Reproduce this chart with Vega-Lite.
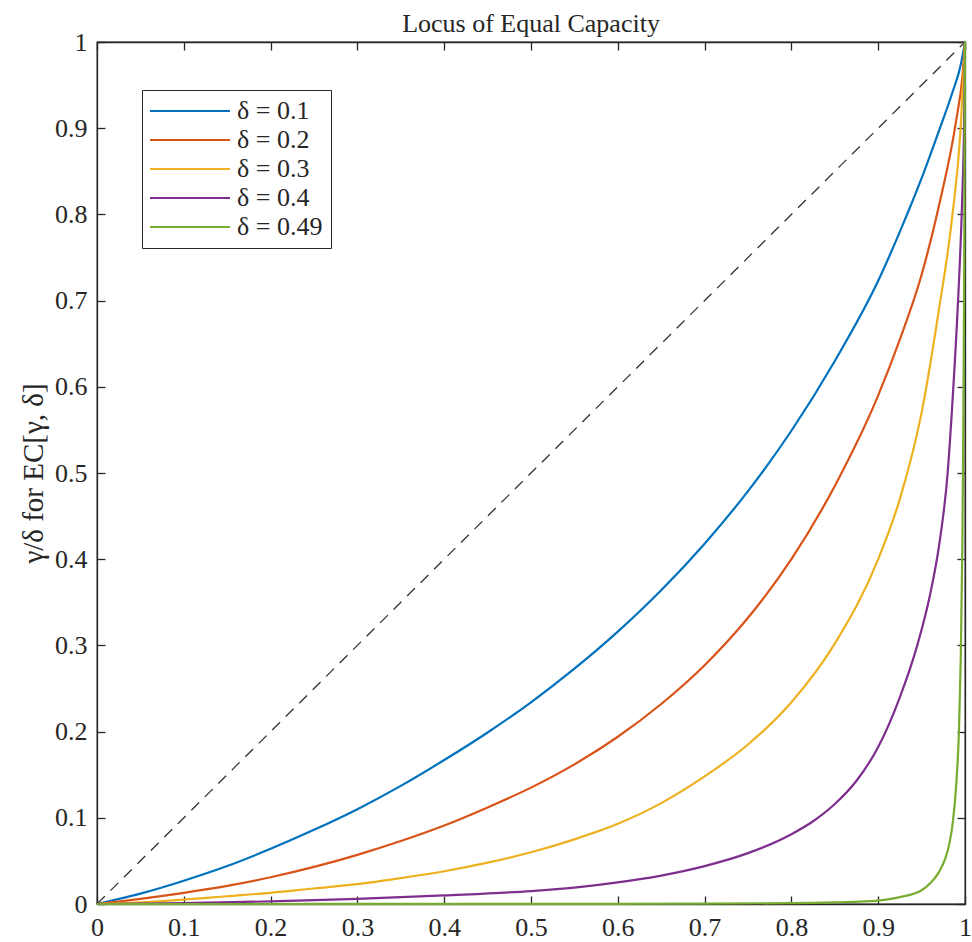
{
  "$schema": "https://vega.github.io/schema/vega-lite/v6.json",
  "autosize": {"type": "none"},
  "width": 868,
  "height": 862,
  "padding": {"left": 97, "top": 42, "right": 7, "bottom": 38},
  "background": "white",
  "title": {"text": "Locus of Equal Capacity", "font": "Liberation Serif", "fontSize": 26, "fontWeight": "normal", "color": "#262626", "offset": -8},
  "config": {
    "view": {"stroke": "#262626", "strokeWidth": 1.3},
    "axis": {
      "labelFont": "Liberation Serif", "labelFontSize": 26, "labelColor": "#262626",
      "titleFont": "Liberation Serif", "titleFontSize": 29, "titleFontWeight": "normal", "titleColor": "#262626",
      "gridColor": "#e3e3e3", "gridWidth": 1, "domainColor": "#262626", "domainWidth": 1.3,
      "tickColor": "#262626", "tickWidth": 1.3, "tickSize": -8, "labelPadding": 18
    }
  },
  "datasets": {
    "diag": [{"x": 0, "y": 0}, {"x": 1, "y": 1}],
    "curves": [
      {"s": "δ = 0.1", "x": 0, "y": 0}, {"s": "δ = 0.1", "x": 0.05, "y": 0.012}, {"s": "δ = 0.1", "x": 0.1, "y": 0.027},
      {"s": "δ = 0.1", "x": 0.15, "y": 0.044}, {"s": "δ = 0.1", "x": 0.2, "y": 0.064}, {"s": "δ = 0.1", "x": 0.25, "y": 0.086},
      {"s": "δ = 0.1", "x": 0.3, "y": 0.11}, {"s": "δ = 0.1", "x": 0.35, "y": 0.137}, {"s": "δ = 0.1", "x": 0.4, "y": 0.167},
      {"s": "δ = 0.1", "x": 0.45, "y": 0.199}, {"s": "δ = 0.1", "x": 0.5, "y": 0.234}, {"s": "δ = 0.1", "x": 0.55, "y": 0.273},
      {"s": "δ = 0.1", "x": 0.6, "y": 0.316}, {"s": "δ = 0.1", "x": 0.65, "y": 0.364}, {"s": "δ = 0.1", "x": 0.7, "y": 0.418},
      {"s": "δ = 0.1", "x": 0.75, "y": 0.479}, {"s": "δ = 0.1", "x": 0.8, "y": 0.549}, {"s": "δ = 0.1", "x": 0.85, "y": 0.63},
      {"s": "δ = 0.1", "x": 0.9, "y": 0.723}, {"s": "δ = 0.1", "x": 0.925, "y": 0.78}, {"s": "δ = 0.1", "x": 0.95, "y": 0.842},
      {"s": "δ = 0.1", "x": 0.97, "y": 0.897}, {"s": "δ = 0.1", "x": 0.985, "y": 0.94}, {"s": "δ = 0.1", "x": 0.995, "y": 0.973},
      {"s": "δ = 0.1", "x": 1, "y": 1},

      {"s": "δ = 0.2", "x": 0, "y": 0}, {"s": "δ = 0.2", "x": 0.05, "y": 0.006}, {"s": "δ = 0.2", "x": 0.1, "y": 0.013},
      {"s": "δ = 0.2", "x": 0.15, "y": 0.021}, {"s": "δ = 0.2", "x": 0.2, "y": 0.031}, {"s": "δ = 0.2", "x": 0.25, "y": 0.043},
      {"s": "δ = 0.2", "x": 0.3, "y": 0.057}, {"s": "δ = 0.2", "x": 0.35, "y": 0.073}, {"s": "δ = 0.2", "x": 0.4, "y": 0.091},
      {"s": "δ = 0.2", "x": 0.45, "y": 0.112}, {"s": "δ = 0.2", "x": 0.5, "y": 0.135}, {"s": "δ = 0.2", "x": 0.55, "y": 0.162},
      {"s": "δ = 0.2", "x": 0.6, "y": 0.194}, {"s": "δ = 0.2", "x": 0.65, "y": 0.232}, {"s": "δ = 0.2", "x": 0.7, "y": 0.277},
      {"s": "δ = 0.2", "x": 0.75, "y": 0.332}, {"s": "δ = 0.2", "x": 0.8, "y": 0.4}, {"s": "δ = 0.2", "x": 0.85, "y": 0.485},
      {"s": "δ = 0.2", "x": 0.9, "y": 0.59}, {"s": "δ = 0.2", "x": 0.925, "y": 0.655}, {"s": "δ = 0.2", "x": 0.95, "y": 0.73},
      {"s": "δ = 0.2", "x": 0.97, "y": 0.81}, {"s": "δ = 0.2", "x": 0.99, "y": 0.91}, {"s": "δ = 0.2", "x": 0.997, "y": 0.96},
      {"s": "δ = 0.2", "x": 1, "y": 1},

      {"s": "δ = 0.3", "x": 0, "y": 0}, {"s": "δ = 0.3", "x": 0.05, "y": 0.002}, {"s": "δ = 0.3", "x": 0.1, "y": 0.005},
      {"s": "δ = 0.3", "x": 0.15, "y": 0.009}, {"s": "δ = 0.3", "x": 0.2, "y": 0.013}, {"s": "δ = 0.3", "x": 0.25, "y": 0.018},
      {"s": "δ = 0.3", "x": 0.3, "y": 0.023}, {"s": "δ = 0.3", "x": 0.35, "y": 0.03}, {"s": "δ = 0.3", "x": 0.4, "y": 0.038},
      {"s": "δ = 0.3", "x": 0.45, "y": 0.048}, {"s": "δ = 0.3", "x": 0.5, "y": 0.06}, {"s": "δ = 0.3", "x": 0.55, "y": 0.075},
      {"s": "δ = 0.3", "x": 0.6, "y": 0.093}, {"s": "δ = 0.3", "x": 0.65, "y": 0.117}, {"s": "δ = 0.3", "x": 0.7, "y": 0.148},
      {"s": "δ = 0.3", "x": 0.75, "y": 0.185}, {"s": "δ = 0.3", "x": 0.8, "y": 0.234}, {"s": "δ = 0.3", "x": 0.85, "y": 0.302},
      {"s": "δ = 0.3", "x": 0.9, "y": 0.4}, {"s": "δ = 0.3", "x": 0.925, "y": 0.47}, {"s": "δ = 0.3", "x": 0.95, "y": 0.57},
      {"s": "δ = 0.3", "x": 0.97, "y": 0.69}, {"s": "δ = 0.3", "x": 0.985, "y": 0.795}, {"s": "δ = 0.3", "x": 0.995, "y": 0.9},
      {"s": "δ = 0.3", "x": 1, "y": 1},

      {"s": "δ = 0.4", "x": 0, "y": 0}, {"s": "δ = 0.4", "x": 0.1, "y": 0.001}, {"s": "δ = 0.4", "x": 0.2, "y": 0.003},
      {"s": "δ = 0.4", "x": 0.3, "y": 0.006}, {"s": "δ = 0.4", "x": 0.4, "y": 0.01}, {"s": "δ = 0.4", "x": 0.5, "y": 0.015},
      {"s": "δ = 0.4", "x": 0.55, "y": 0.019}, {"s": "δ = 0.4", "x": 0.6, "y": 0.025}, {"s": "δ = 0.4", "x": 0.65, "y": 0.033},
      {"s": "δ = 0.4", "x": 0.7, "y": 0.044}, {"s": "δ = 0.4", "x": 0.75, "y": 0.059}, {"s": "δ = 0.4", "x": 0.8, "y": 0.081},
      {"s": "δ = 0.4", "x": 0.825, "y": 0.096}, {"s": "δ = 0.4", "x": 0.85, "y": 0.116}, {"s": "δ = 0.4", "x": 0.875, "y": 0.143},
      {"s": "δ = 0.4", "x": 0.9, "y": 0.182}, {"s": "δ = 0.4", "x": 0.925, "y": 0.24}, {"s": "δ = 0.4", "x": 0.945, "y": 0.3},
      {"s": "δ = 0.4", "x": 0.96, "y": 0.36}, {"s": "δ = 0.4", "x": 0.97, "y": 0.415}, {"s": "δ = 0.4", "x": 0.98, "y": 0.5},
      {"s": "δ = 0.4", "x": 0.986, "y": 0.59}, {"s": "δ = 0.4", "x": 0.992, "y": 0.7}, {"s": "δ = 0.4", "x": 0.9965, "y": 0.81},
      {"s": "δ = 0.4", "x": 0.999, "y": 0.91}, {"s": "δ = 0.4", "x": 1, "y": 1},

      {"s": "δ = 0.49", "x": 0, "y": 0}, {"s": "δ = 0.49", "x": 0.5, "y": 0.0001}, {"s": "δ = 0.49", "x": 0.7, "y": 0.0005},
      {"s": "δ = 0.49", "x": 0.8, "y": 0.001}, {"s": "δ = 0.49", "x": 0.85, "y": 0.002}, {"s": "δ = 0.49", "x": 0.9, "y": 0.004},
      {"s": "δ = 0.49", "x": 0.925, "y": 0.008}, {"s": "δ = 0.49", "x": 0.95, "y": 0.016}, {"s": "δ = 0.49", "x": 0.96, "y": 0.024},
      {"s": "δ = 0.49", "x": 0.97, "y": 0.037}, {"s": "δ = 0.49", "x": 0.977, "y": 0.052}, {"s": "δ = 0.49", "x": 0.982, "y": 0.07},
      {"s": "δ = 0.49", "x": 0.986, "y": 0.095}, {"s": "δ = 0.49", "x": 0.99, "y": 0.14}, {"s": "δ = 0.49", "x": 0.993, "y": 0.2},
      {"s": "δ = 0.49", "x": 0.995, "y": 0.28}, {"s": "δ = 0.49", "x": 0.997, "y": 0.42}, {"s": "δ = 0.49", "x": 0.998, "y": 0.55},
      {"s": "δ = 0.49", "x": 0.999, "y": 0.72}, {"s": "δ = 0.49", "x": 1, "y": 1}
    ]
  },
  "layer": [
    {
      "data": {"name": "diag"},
      "mark": {"type": "line", "color": "#333333", "strokeWidth": 1.3, "strokeDash": [11, 8]},
      "encoding": {
        "x": {"field": "x", "type": "quantitative", "scale": {"domain": [0, 1], "nice": false}, "axis": null},
        "y": {"field": "y", "type": "quantitative", "scale": {"domain": [0, 1], "nice": false}, "axis": null}
      }
    },
    {
      "data": {"name": "curves"},
      "mark": {"type": "line", "strokeWidth": 2.2, "interpolate": "monotone"},
      "encoding": {
        "x": {"field": "x", "type": "quantitative", "scale": {"domain": [0, 1], "nice": false},
              "axis": {"values": [0, 0.1, 0.2, 0.3, 0.4, 0.5, 0.6, 0.7, 0.8, 0.9, 1], "format": "~g", "title": null, "labelFlush": false}},
        "y": {"field": "y", "type": "quantitative", "scale": {"domain": [0, 1], "nice": false},
              "axis": {"values": [0, 0.1, 0.2, 0.3, 0.4, 0.5, 0.6, 0.7, 0.8, 0.9, 1], "format": "~g", "title": "γ/δ for EC[γ, δ]", "titlePadding": 6, "labelFlush": false}},
        "color": {
          "field": "s", "type": "nominal",
          "scale": {"domain": ["δ = 0.1", "δ = 0.2", "δ = 0.3", "δ = 0.4", "δ = 0.49"], "range": ["#0072BD", "#D95319", "#EDB120", "#7E2F8E", "#77AC30"]},
          "legend": {
            "orient": "none", "legendX": 45, "legendY": 48, "title": null,
            "fillColor": "white", "strokeColor": "#262626", "padding": 8,
            "symbolType": "M-2.6,0H13.4", "symbolSize": 100, "symbolStrokeWidth": 2.2,
            "labelFont": "Liberation Serif", "labelFontSize": 26, "labelColor": "#262626",
            "labelOffset": 61, "rowPadding": 3
          }
        }
      }
    },
    {
      "data": {"name": "diag"},
      "mark": {"type": "point", "opacity": 0},
      "encoding": {
        "x": {"field": "x", "type": "quantitative", "scale": {"domain": [0, 1], "nice": false},
              "axis": {"orient": "top", "values": [0, 0.1, 0.2, 0.3, 0.4, 0.5, 0.6, 0.7, 0.8, 0.9, 1], "labels": false, "grid": false, "title": null}},
        "y": {"field": "y", "type": "quantitative", "scale": {"domain": [0, 1], "nice": false},
              "axis": {"orient": "right", "values": [0, 0.1, 0.2, 0.3, 0.4, 0.5, 0.6, 0.7, 0.8, 0.9, 1], "labels": false, "grid": false, "title": null}}
      }
    }
  ],
  "resolve": {"axis": {"x": "independent", "y": "independent"}}
}
